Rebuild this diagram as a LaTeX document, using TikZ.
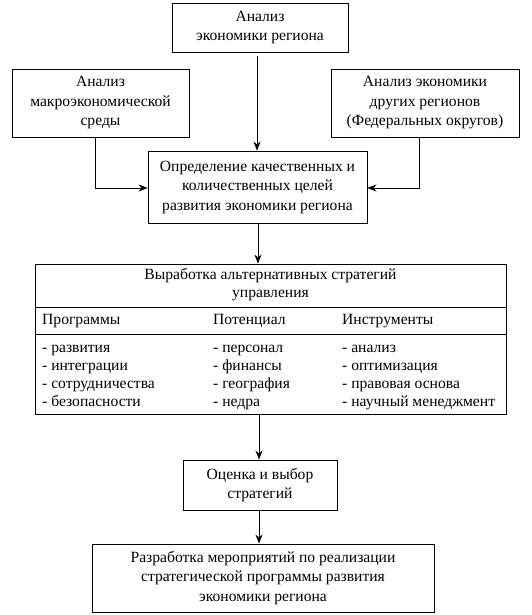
\documentclass[tikz,border=0pt]{standalone}
\usepackage{fontspec}
\setmainfont{Liberation Serif}
\usetikzlibrary{arrows.meta}
\begin{document}
\begin{tikzpicture}[x=1pt,y=-1pt,
  box/.style={draw,line width=0.9pt,align=center,inner sep=0pt,font=\fontsize{15.6}{19.5}\selectfont},
  txt/.style={inner sep=0pt,anchor=base west,font=\fontsize{15.6}{18}\selectfont},
  arr/.style={line width=0.9pt,-{Stealth[length=9pt,width=7pt,inset=3pt]}}]
\useasboundingbox (0,0) rectangle (532,615);
\node[box,minimum width=176pt,minimum height=49pt] (top) at (260,27.5) {Анализ\\экономики региона};
\node[box,minimum width=177pt,minimum height=68pt] (left) at (100.5,103) {Анализ\\макроэкономической\\среды};
\node[box,minimum width=188pt,minimum height=68pt] (right) at (425,103) {Анализ экономики\\других регионов\\(Федеральных округов)};
\node[box,minimum width=219pt,minimum height=72pt] (mid) at (257.5,187) {Определение качественных и\\количественных целей\\развития экономики региона};
\node[box,minimum width=471pt,minimum height=150pt] (big) at (270.5,339) {};
\draw[line width=0.9pt] (big.west |- 0,307) coordinate (d1w) -- (big.east |- 0,307) coordinate (d1e);
\draw[line width=0.9pt] (big.west |- 0,334) coordinate (d2w) -- (big.east |- 0,334) coordinate (d2e);
\node[inner sep=0pt,align=center,font=\fontsize{15.6}{18}\selectfont] (head) at (270.5,285) {Выработка альтернативных стратегий\\управления};
\node[txt] (h1) at (42,324) {Программы};
\node[txt] (h2) at (213,324) {Потенциал};
\node[txt] (h3) at (342,324) {Инструменты};
\foreach \t [count=\i] in {развития,интеграции,сотрудничества,безопасности}
  \node[txt] (a\i) at (42,{334+18*\i}) {- \t};
\foreach \t [count=\i] in {персонал,финансы,география,недра}
  \node[txt] (b\i) at (213,{334+18*\i}) {- \t};
\foreach \t [count=\i] in {анализ,оптимизация,правовая основа,научный менеджмент}
  \node[txt] (c\i) at (342,{334+18*\i}) {- \t};
\node[box,minimum width=154pt,minimum height=50pt] (eval) at (260,485) {Оценка и выбор\\стратегий};
\node[box,minimum width=342pt,minimum height=68pt] (last) at (263,578) {Разработка мероприятий по реализации\\стратегической программы развития\\экономики региона};
\draw[arr,shorten <=4pt] ([xshift=-3pt]top.south) -- ([xshift=-3pt]top.south |- mid.north);
\draw[arr] (left.south -| 95,0) |- (mid.west |- 0,188);
\draw[arr] (right.south -| 419,0) |- (mid.east |- 0,188);
\draw[arr] (mid.south -| 258,0) -- (big.north -| 258,0);
\draw[arr] (big.south -| 259,0) -- (eval.north -| 259,0);
\draw[arr] (eval.south -| 259,0) -- (last.north -| 259,0);
\end{tikzpicture}
\end{document}
